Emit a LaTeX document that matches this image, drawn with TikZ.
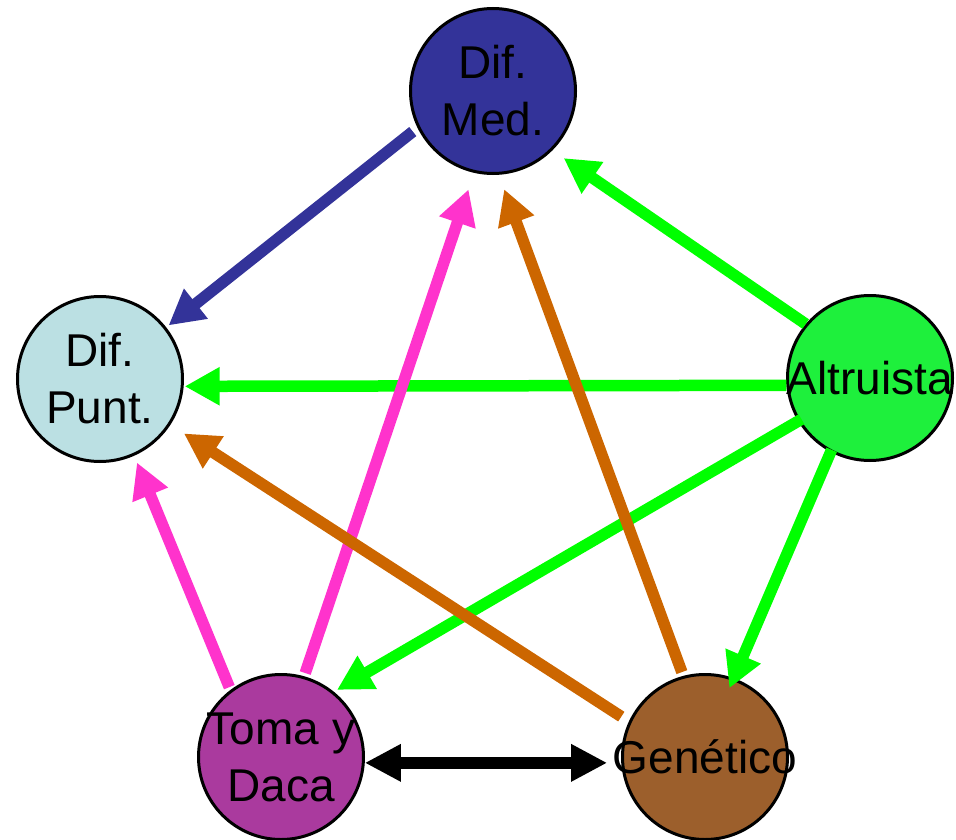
\documentclass[tikz,border=0pt]{standalone}
\usepackage{fontspec}
\setmainfont{Liberation Sans}
\usetikzlibrary{arrows.meta}
\definecolor{dmfill}{HTML}{333399}
\definecolor{dpfill}{HTML}{BBE0E3}
\definecolor{alfill}{RGB}{30,240,60}
\definecolor{tdfill}{RGB}{170,58,158}
\definecolor{gefill}{RGB}{156,95,44}
\definecolor{greenarr}{HTML}{00FF00}
\definecolor{bluearr}{HTML}{333399}
\definecolor{pinkarr}{HTML}{FF33CC}
\definecolor{orangearr}{HTML}{CC6600}
\begin{document}
\begin{tikzpicture}[x=1pt,y=-1pt,
  bub/.style={circle,draw=black,line width=3pt,minimum size=165pt,inner sep=0pt},
  lbl/.style={font=\fontsize{46}{57}\selectfont,align=center,inner sep=0pt,text=black},
  conn/.style={line width=11.5pt,-{Triangle[length=35pt,width=36pt]}},
  biconn/.style={line width=11.5pt,{Triangle[length=36pt,width=35pt]}-{Triangle[length=36pt,width=35pt]}},
]
\useasboundingbox (0,0) rectangle (956,840);
% circles
\node[bub,fill=dmfill] (dm) at (493,91) {};
\node[bub,fill=dpfill] (dp) at (100,379) {};
\node[bub,fill=alfill] (al) at (870,378) {};
\node[bub,fill=tdfill] (td) at (281,757) {};
\node[bub,fill=gefill] (ge) at (705,757) {};
% connectors
\draw[conn,draw=bluearr,fill=bluearr,shorten <=6pt,shorten >=3pt] (dm.206.3) -- (dp.38.5);
\draw[conn,draw=greenarr,fill=greenarr,shorten >=13.6pt] (al.140.8) -- (dm.315);
\draw[conn,draw=greenarr,fill=greenarr,shorten >=1pt] (al.185.5) -- (dp.355.3);
\draw[conn,draw=greenarr,fill=greenarr,shorten <=-4pt,shorten >=3.6pt] (al.211.7) -- (td.51.95);
\draw[conn,draw=greenarr,fill=greenarr,shorten <=-2.6pt,shorten >=-11pt] (al.242.2) -- (ge.70.8);
\draw[conn,draw=pinkarr,fill=pinkarr,shorten <=3.4pt,shorten >=17.4pt] (td.74) -- (dm.257.5);
\draw[conn,draw=pinkarr,fill=pinkarr,shorten <=3pt,shorten >=7.3pt] (td.127.5) -- (dp.294.6);
\draw[conn,draw=orangearr,fill=orangearr,shorten <=4pt,shorten >=15.3pt] (ge.105.1) -- (dm.274.6);
\draw[conn,draw=orangearr,fill=orangearr,shorten <=9pt,shorten >=16pt] (ge.155.9) -- (dp.327.3);
\draw[biconn,draw=black,fill=black,shorten >=14pt] (td.-4.8) -- (ge.184);
% labels
\node[lbl] (dmt) at (dm) {Dif.\\Med.};
\node[lbl] (dpt) at (dp) {Dif.\\Punt.};
\node[lbl] (alt) at (al) {Altruista};
\node[lbl] (tdt) at (td) {Toma y\\Daca};
\node[lbl] (get) at (ge) {Genético};
\end{tikzpicture}
\end{document}
